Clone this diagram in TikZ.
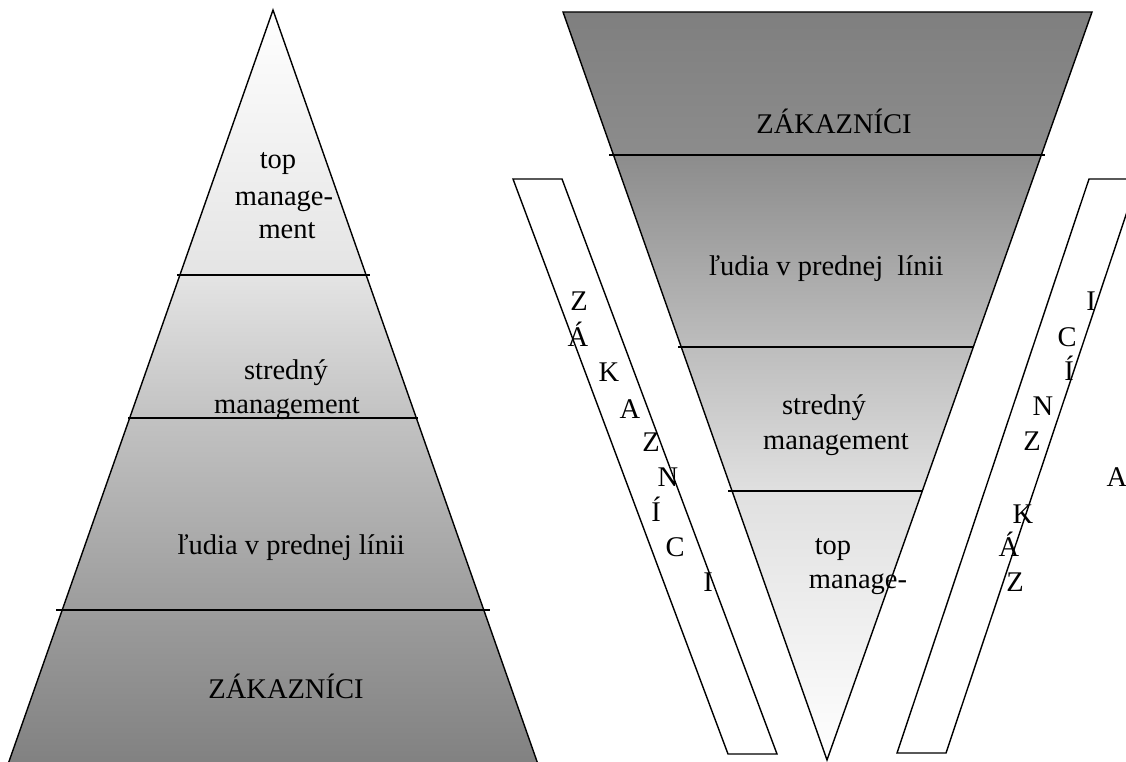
\documentclass[tikz,border=0pt]{standalone}
\usepackage{fontspec}
\setmainfont{Liberation Serif}
\usepackage{tikz}

\definecolor{lvA}{gray}{1}
\definecolor{lvB}{gray}{0.894}
\definecolor{lvC}{gray}{0.761}
\definecolor{lvD}{gray}{0.612}
\definecolor{lvE}{gray}{0.502}
\definecolor{fnA}{gray}{0.498}
\definecolor{fnB}{gray}{0.549}
\definecolor{fnC}{gray}{0.741}
\definecolor{fnD}{gray}{0.878}
\definecolor{fnE}{gray}{1}

\begin{document}
\begin{tikzpicture}[x=1pt, y=-1pt,
    lbl/.style={font=\fontsize{28.5}{34}\selectfont, inner sep=0pt, text height=0.66em, text depth=0pt},
    outline/.style={draw, line width=1.4pt, line join=miter},
    divider/.style={draw, line width=1.4pt},
    strip/.style={draw, fill=white, line width=1.4pt}]
    \useasboundingbox (0,0) rectangle (1126,762);
    \clip (0,0) rectangle (1126,762);

    % classic pyramid
    \path[top color=lvA, bottom color=lvB] (273,10) -- (366,275) -- (180,275) -- cycle;
    \path[top color=lvB, bottom color=lvC] (180,275) -- (366,275) -- (416.2,418) -- (129.8,418) -- cycle;
    \path[top color=lvC, bottom color=lvD] (129.8,418) -- (416.2,418) -- (483.6,610) -- (62.4,610) -- cycle;
    \path[top color=lvD, bottom color=lvE] (62.4,610) -- (483.6,610) -- (540,770) -- (6,770) -- cycle;
    \draw[outline] (6,770) -- (273,10) -- (540,770);
    \draw[divider] (177,275) -- (370,275);
    \draw[divider] (128,418) -- (418,418);
    \draw[divider] (56,610) -- (490,610);

    % inverted pyramid
    \path[top color=fnA, bottom color=fnB] (563,12) -- (1092,12) -- (1041.3,155) -- (613.5,155) -- cycle;
    \path[top color=fnB, bottom color=fnC] (613.5,155) -- (1041.3,155) -- (973.3,347) -- (681.2,347) -- cycle;
    \path[top color=fnC, bottom color=fnD] (681.2,347) -- (973.3,347) -- (922.3,491) -- (732,491) -- cycle;
    \path[top color=fnD, bottom color=fnE] (732,491) -- (922.3,491) -- (827,760) -- cycle;
    \draw[outline] (563,12) -- (1092,12) -- (827,760) -- cycle;
    \draw[divider] (609,155) -- (1045,155);
    \draw[divider] (678,347) -- (974,347);
    \draw[divider] (728,491) -- (923,491);

    % side strips
    \draw[strip] (513,179) -- (562,179) -- (777,754) -- (728,754) -- cycle;
    \draw[strip] (1089,179) -- (1138,179) -- (946,753) -- (897,753) -- cycle;

    % labels
    \node[lbl] (ltop) at (278,165) {top};
    \node[lbl] (lmanage) at (284,202) {manage-};
    \node[lbl] (lment) at (287,235) {ment};
    \node[lbl] (lmid) at (286,376) {stredný};
    \node[lbl] (lmidb) at (287,410) {management};
    \node[lbl] (lfront) at (291,551) {ľudia v prednej línii};
    \node[lbl] (lcust) at (286,695) {ZÁKAZNÍCI};

    \node[lbl] (rcust) at (834,130) {ZÁKAZNÍCI};
    \node[lbl] (rfront) at (826,272) {ľudia v prednej\ \ línii};
    \node[lbl] (rmid) at (824,411) {stredný};
    \node[lbl] (rmidb) at (836,446) {management};
    \node[lbl] (rtop) at (833,551) {top};
    \node[lbl] (rmanage) at (858,585) {manage-};

    \foreach \ch/\x/\y [count=\i] in {Z/579/307, Á/578/343, K/609/378, A/630/415, Z/651/448,
                                     N/668/483, Í/656/518, C/675/553, I/708/588}
        \node[lbl] (lz\i) at (\x,\y) {\ch};
    \foreach \ch/\x/\y [count=\i] in {I/1091/307, C/1067/343, Í/1069/377, N/1043/412, Z/1032/447,
                                     A/1117/483, K/1023/520, Á/1009/553, Z/1015/588}
        \node[lbl] (rz\i) at (\x,\y) {\ch};
\end{tikzpicture}
\end{document}
